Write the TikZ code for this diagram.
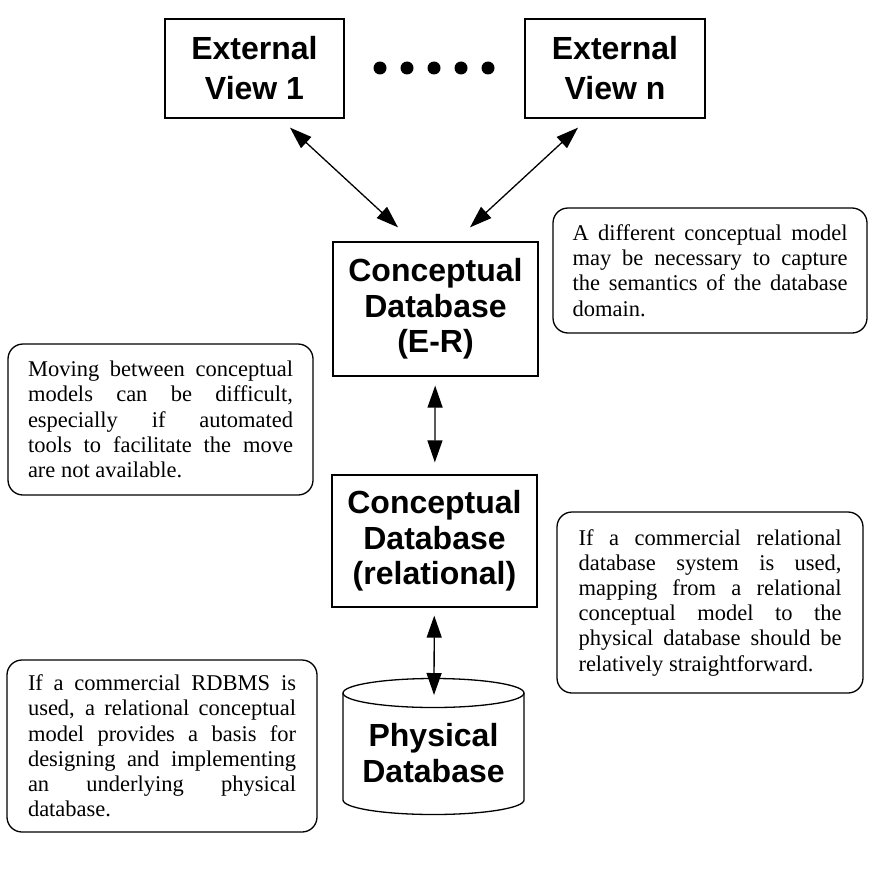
\documentclass[tikz,border=0pt]{standalone}
\usepackage{fontspec}
\setmainfont{Liberation Serif}
\newfontfamily\headfont{Liberation Sans}
\usetikzlibrary{arrows.meta}
\usetikzlibrary{positioning}

% one justified line of a note
\newcommand{\fullline}[1]{\makebox[\hsize][s]{#1}\\}

\begin{document}
\begin{tikzpicture}[x=1pt, y=-1pt, >={Triangle[length=22pt,width=15pt]}, line width=1.3pt]
		 \tikzstyle{level} = [draw, align=center, inner sep=0pt, font=\headfont\bfseries\fontsize{32}{35.5}\selectfont];
		 \tikzstyle{view} = [level, minimum height=99pt, font=\headfont\bfseries\fontsize{32}{40}\selectfont];
		 \tikzstyle{note} = [draw, rounded corners=15pt, align=justify, inner sep=0pt, font=\fontsize{22.5}{25.2}\selectfont];
		 \tikzstyle{link} = [<->];

		 \useasboundingbox (0,0) rectangle (874,872);

		 \node [view, minimum width=179pt] (ext1) at (254.5,68.5) {External\\View 1};
		 \node [view, minimum width=180pt] (extn) at (615,68.5) {External\\View n};
		 \node [level, minimum width=205pt, minimum height=134pt] (cer)  at (435.5,309) {Conceptual\\Database\\(E-R)};
		 \node [level, minimum width=205pt, minimum height=132pt] (crel) at (434.5,541) {Conceptual\\Database\\(relational)};
		 \node [level, draw=none] (pdb) at (433.5,753) {Physical\\Database};
		 \coordinate (dbtop) at (434,695);

		 % the dots between the views
		 \foreach \x in {380,407,...,488}
		 	\fill (\x,68) circle [radius=6.5pt];

		 % database drum
		 \draw (343,693) -- (343,800) arc [start angle=180, end angle=360, x radius=90.5pt, y radius=14.5pt] -- (524,693);
		 \draw (433.5,693) ellipse [x radius=90.5pt, y radius=14.5pt];

		 \node [note, text width=275pt, minimum width=314pt, minimum height=125pt] (note1) at (710,270.5)
		 	{\fullline{A different conceptual model}\fullline{may be necessary to capture}\fullline{the semantics of the database}domain.};
		 \node [note, text width=265pt, minimum width=305pt, minimum height=151pt] (note2) at (160.5,419.5)
		 	{\fullline{Moving between conceptual}\fullline{models can be difficult,}\fullline{especially if automated}\fullline{tools to facilitate the move}are not available.};
		 \node [note, text width=263pt, minimum width=306pt, minimum height=181pt] (note3) at (710,602.5)
		 	{\fullline{If a commercial relational}\fullline{database system is used,}\fullline{mapping from a relational}\fullline{conceptual model to the}\fullline{physical database should be}relatively straightforward.};
		 \node [note, text width=268pt, minimum width=310pt, minimum height=172pt] (note4) at (162,746)
		 	{\fullline{If a commercial RDBMS is}\fullline{used, a relational conceptual}\fullline{model provides a basis for}\fullline{designing and implementing}\fullline{an underlying physical}database.};

 		\path [link] ([shift={(35.5,9)}]ext1.south) edge ([shift={(-37.5,-14)}]cer.north)
         		     ([shift={(-37,9)}]extn.south) edge ([shift={(34.5,-14)}]cer.north)
         		     (cer)  edge [shorten <=9pt, shorten >=12pt] (crel)
         		     (crel) edge [shorten <=8pt] (dbtop);
	\end{tikzpicture}
\end{document}
